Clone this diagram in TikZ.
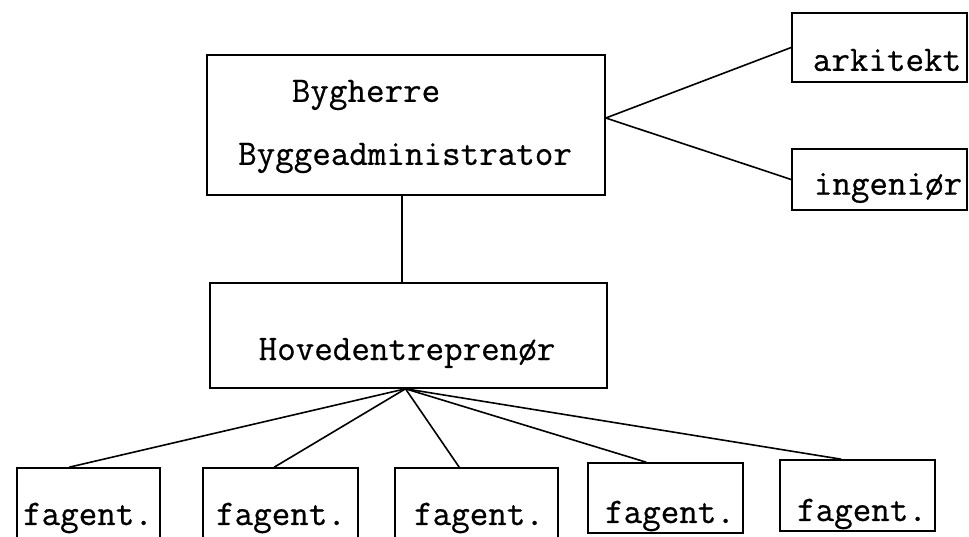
\documentclass[tikz,border=0pt]{standalone}
\usepackage{fontspec}
\newfontfamily\twfont[FakeBold=0.6]{Latin Modern Mono}
\usetikzlibrary{calc}
\begin{document}
\begin{tikzpicture}[x=1pt,y=-1pt,
  box/.style={draw,line width=1.6pt,rectangle,inner sep=0pt},
  lbl/.style={font=\twfont\fontsize{36}{36}\selectfont,inner sep=0pt,anchor=center},
  conn/.style={line width=1.6pt}]
\useasboundingbox (0,0) rectangle (969,537);
\clip (0,0) rectangle (969,537);
% top box
\node[box,minimum width=398pt,minimum height=140pt] (top) at (406,125) {};
\node[lbl] (tl1) at (366,95) {Bygherre};
\node[lbl] (tl2) at (405,158) {Byggeadministrator};
% side boxes
\node[box,minimum width=175pt,minimum height=69pt] (ark) at (879.5,47.5) {};
\node[lbl] (arkl) at (887,60) {arkitekt};
\node[box,minimum width=175pt,minimum height=61pt] (ing) at (879.5,179.5) {};
\node[lbl] (ingl) at (888,188) {ingeniør};
% main contractor
\node[box,minimum width=397pt,minimum height=105pt] (hov) at (408.5,335.5) {};
\node[lbl] (hovl) at (407,353) {Hovedentreprenør};
% bottom boxes
\node[box,minimum width=143pt,minimum height=77pt] (b1) at (88.5,506.5) {};
\node[box,minimum width=155pt,minimum height=77pt] (b2) at (280.5,506.5) {};
\node[box,minimum width=163pt,minimum height=77pt] (b3) at (476.5,506.5) {};
\node[box,minimum width=155pt,minimum height=70pt] (b4) at (665.5,498) {};
\node[box,minimum width=155pt,minimum height=71pt] (b5) at (857.5,495.5) {};
\node[lbl] (b1l) at (88,518) {fagent.};
\node[lbl] (b2l) at (281,518) {fagent.};
\node[lbl] (b3l) at (479,518) {fagent.};
\node[lbl] (b4l) at (670,516) {fagent.};
\node[lbl] (b5l) at (862,514) {fagent.};
% connector points
\coordinate (tfan) at ($(top.east)+(0,-7)$);
\coordinate (bfan) at ($(hov.south)+(-3,0)$);
\coordinate (vx) at (402,0);
\coordinate (e1) at ($(b1.north west)+(53,0)$);
\coordinate (e2) at ($(b2.north west)+(72,0)$);
\coordinate (e3) at ($(b3.north west)+(65,0)$);
\coordinate (e4) at ($(b4.north west)+(59,0)$);
\coordinate (e5) at ($(b5.north west)+(62,0)$);
% connectors
\draw[conn] (tfan) -- (ark.west);
\draw[conn] (tfan) -- (ing.west);
\draw[conn] (top.south -| vx) -- (hov.north -| vx);
\foreach \e in {e1,e2,e3,e4,e5} \draw[conn] (bfan) -- (\e);
\end{tikzpicture}
\end{document}
